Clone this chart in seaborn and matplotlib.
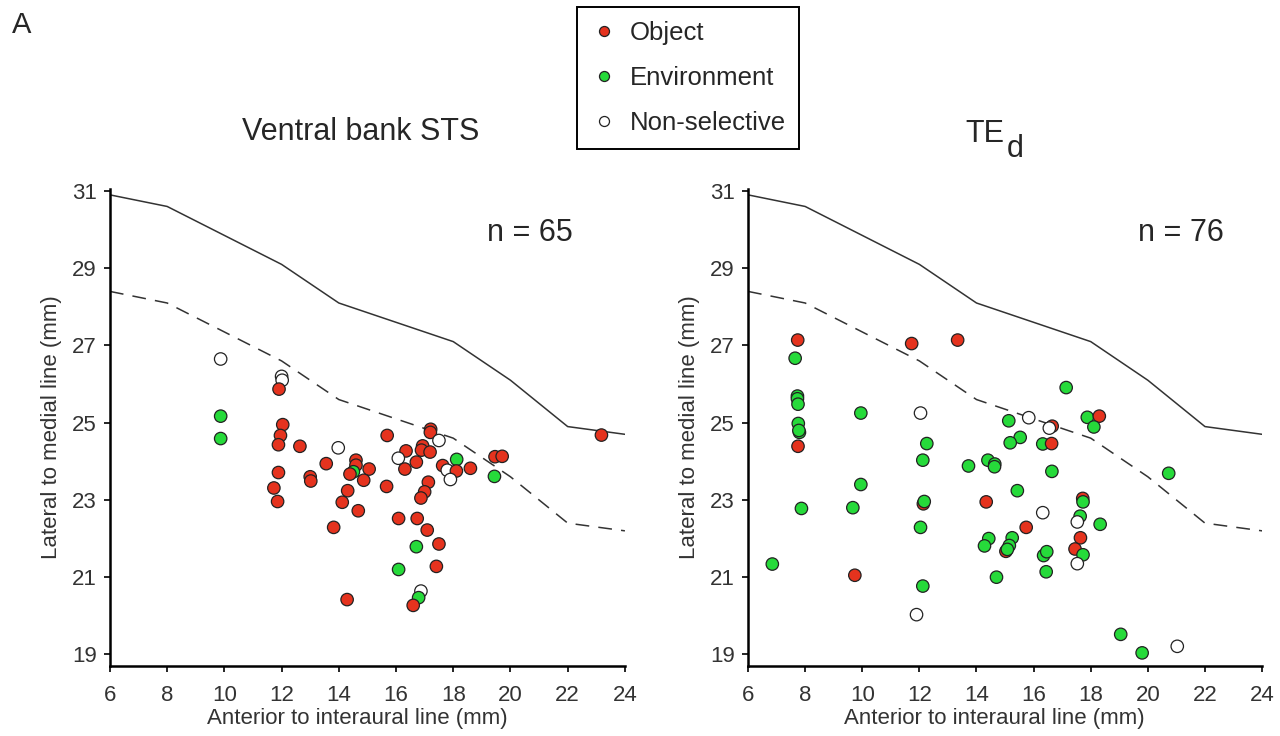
import matplotlib
matplotlib.use("Agg")
import matplotlib.pyplot as plt
from matplotlib.lines import Line2D
import seaborn as sns
import pandas as pd

sns.set_theme(style="ticks")
plt.rcParams['font.family'] = ['Liberation Sans', 'DejaVu Sans']

# Boundary lines (shared by both panels)
bound_x = [6, 8, 12, 14, 18, 20, 22, 24]
solid_y = [30.9, 30.6, 29.1, 28.1, 27.1, 26.1, 24.9, 24.7]
dashed_y = [28.4, 28.1, 26.6, 25.6, 24.6, 23.6, 22.4, 22.2]

# Ventral bank STS
sts_x = [9.87, 12.0, 12.02, 11.91, 9.87, 9.87, 12.04, 11.96, 11.89, 12.64,
         13.98, 13.56, 14.6, 14.6, 14.51, 14.39, 11.89, 13.0, 13.02, 11.73,
         14.31, 11.86, 14.12, 14.68, 13.82, 14.29, 15.06, 14.87, 15.69, 15.67,
         17.21, 17.2, 17.5, 16.35, 16.93, 16.89, 17.19, 16.08, 16.71, 16.31,
         17.63, 17.79, 18.12, 18.11, 17.9, 18.6, 19.46, 19.71, 19.44, 23.18,
         17.13, 17.0, 16.87, 16.09, 16.74, 17.09, 17.5, 16.71, 16.09, 17.41,
         16.87, 16.79, 16.6]
sts_y = [26.65, 26.2, 26.1, 25.87, 25.17, 24.59, 24.95, 24.67, 24.43, 24.39,
         24.35, 23.94, 24.03, 23.9, 23.73, 23.67, 23.71, 23.6, 23.49, 23.31,
         23.24, 22.96, 22.94, 22.72, 22.29, 20.42, 23.8, 23.51, 24.67, 23.35,
         24.83, 24.75, 24.54, 24.27, 24.4, 24.29, 24.24, 24.08, 23.98, 23.8,
         23.89, 23.77, 24.05, 23.75, 23.53, 23.82, 24.12, 24.13, 23.61, 24.68,
         23.46, 23.21, 23.05, 22.52, 22.52, 22.22, 21.86, 21.79, 21.2, 21.28,
         20.64, 20.47, 20.27]
sts_cat = ['Non-selective', 'Non-selective', 'Non-selective', 'Object', 'Environment',
           'Environment', 'Object', 'Object', 'Object', 'Object',
           'Non-selective', 'Object', 'Object', 'Object', 'Environment',
           'Object', 'Object', 'Object', 'Object', 'Object',
           'Object', 'Object', 'Object', 'Object', 'Object',
           'Object', 'Object', 'Object', 'Object', 'Object',
           'Object', 'Object', 'Non-selective', 'Object', 'Object',
           'Object', 'Object', 'Non-selective', 'Object', 'Object',
           'Object', 'Non-selective', 'Environment', 'Object', 'Non-selective',
           'Object', 'Object', 'Object', 'Environment', 'Object',
           'Object', 'Object', 'Object', 'Object', 'Object',
           'Object', 'Object', 'Environment', 'Environment', 'Object',
           'Non-selective', 'Environment', 'Object']

# TEd
ted_x = [7.74, 7.65, 7.73, 7.73, 7.75, 7.76, 7.8, 7.78, 7.75, 7.87,
         6.85, 11.73, 13.34, 9.95, 9.95, 9.67, 9.74, 12.04, 12.26, 12.12,
         12.14, 12.17, 12.04, 12.12, 11.9, 13.72, 14.4, 14.64, 14.63, 14.34,
         14.43, 14.28, 14.7, 17.14, 15.13, 15.83, 16.65, 16.55, 17.88, 18.3,
         18.11, 15.53, 15.18, 16.32, 16.63, 16.64, 20.73, 15.43, 16.32, 17.72,
         17.73, 17.63, 17.53, 18.33, 15.74, 17.64, 17.45, 17.73, 17.53, 15.25,
         15.15, 15.03, 15.08, 16.35, 16.46, 16.44, 19.05, 19.8, 21.03]
ted_y = [27.14, 26.67, 25.69, 25.62, 25.48, 24.98, 24.75, 24.8, 24.39, 22.78,
         21.34, 27.05, 27.14, 25.25, 23.4, 22.8, 21.05, 25.25, 24.46, 24.03,
         22.9, 22.96, 22.29, 20.77, 20.03, 23.88, 24.03, 23.93, 23.86, 22.95,
         22.0, 21.81, 21.0, 25.91, 25.05, 25.13, 24.91, 24.86, 25.14, 25.17,
         24.89, 24.62, 24.48, 24.45, 24.46, 23.74, 23.69, 23.24, 22.67, 23.04,
         22.95, 22.58, 22.43, 22.37, 22.29, 22.02, 21.73, 21.58, 21.35, 22.02,
         21.82, 21.67, 21.72, 21.56, 21.66, 21.14, 19.52, 19.04, 19.21]
ted_cat = ['Object', 'Environment', 'Environment', 'Environment', 'Environment',
           'Environment', 'Environment', 'Environment', 'Object', 'Environment',
           'Environment', 'Object', 'Object', 'Environment', 'Environment',
           'Environment', 'Object', 'Non-selective', 'Environment', 'Environment',
           'Object', 'Environment', 'Environment', 'Environment', 'Non-selective',
           'Environment', 'Environment', 'Environment', 'Environment', 'Object',
           'Environment', 'Environment', 'Environment', 'Environment', 'Environment',
           'Non-selective', 'Object', 'Non-selective', 'Environment', 'Object',
           'Environment', 'Environment', 'Environment', 'Environment', 'Object',
           'Environment', 'Environment', 'Environment', 'Non-selective', 'Object',
           'Environment', 'Environment', 'Non-selective', 'Environment', 'Object',
           'Object', 'Object', 'Environment', 'Non-selective', 'Environment',
           'Environment', 'Object', 'Environment', 'Environment', 'Environment',
           'Environment', 'Environment', 'Environment', 'Non-selective']

categories = ['Object', 'Environment', 'Non-selective']
colors = {'Object': '#E5331E', 'Environment': '#26DA3A', 'Non-selective': '#FFFFFF'}
x_ticks = [6, 8, 10, 12, 14, 16, 18, 20, 22, 24]
y_ticks = [19, 21, 23, 25, 27, 29, 31]

fig = plt.figure(figsize=(12.8, 7.36), dpi=100)
ax_l = fig.add_axes([0.0859, 0.0951, 0.4023, 0.648])
ax_r = fig.add_axes([0.5844, 0.0951, 0.4016, 0.648])

bdf = pd.DataFrame({'x': bound_x, 'solid': solid_y, 'dashed': dashed_y})

panels = [(ax_l, sts_x, sts_y, sts_cat, 'n = 65', 0.8155),
          (ax_r, ted_x, ted_y, ted_cat, 'n = 76', 0.842)]
for ax, xs, ys, cs, ntext, nx in panels:
    sns.lineplot(data=bdf, x='x', y='solid', ax=ax, color='#333333', lw=1.1)
    sns.lineplot(data=bdf, x='x', y='dashed', ax=ax, color='#333333', lw=1.1)
    ax.lines[-1].set_dashes([9, 6])
    df = pd.DataFrame({'x': xs, 'y': ys, 'cat': cs})
    sns.scatterplot(data=df, x='x', y='y', hue='cat', hue_order=categories,
                    palette=colors, s=80, edgecolor='#222222', linewidth=0.9,
                    ax=ax, legend=False, zorder=3)
    ax.set_xlim(6, 24)
    ax.set_ylim(18.7, 31.05)
    ax.set_xticks(x_ticks)
    ax.set_yticks(y_ticks)
    ax.tick_params(labelsize=16, colors='black', labelcolor='#333333', length=4, width=1.2)
    ax.tick_params(axis='x', pad=10)
    ax.tick_params(axis='y', pad=5.5)
    for side in ['top', 'right']:
        ax.spines[side].set_visible(False)
    for side in ['left', 'bottom']:
        ax.spines[side].set_linewidth(1.8)
        ax.spines[side].set_color('black')
    ax.set_xlabel('Anterior to interaural line (mm)', fontsize=16, color='#333333')
    ax.xaxis.set_label_coords(0.48, -0.11, transform=ax.transAxes)
    ax.xaxis.label.set_va('center')
    ax.set_ylabel('Lateral to medial line (mm)', fontsize=16, color='#333333', labelpad=7)
    ax.text(nx, 0.908, ntext, transform=ax.transAxes, fontsize=22, ha='center', va='center')

fig.text(0.282, 0.8207, 'Ventral bank STS', fontsize=22, ha='center', va='center')
fig.text(0.7539, 1 - 142 / 736, 'TE', fontsize=22, ha='left', va='baseline')
fig.text(0.7867, 1 - 157 / 736, 'd', fontsize=22, ha='left', va='baseline')
fig.text(0.009, 0.966, 'A', fontsize=21, ha='left', va='center')

handles = [Line2D([0], [0], marker='o', linestyle='', markersize=7.2,
                  markerfacecolor=colors[c], markeredgecolor='#222222', markeredgewidth=0.9)
           for c in categories]
leg = fig.legend(handles, categories, loc='upper left', bbox_to_anchor=(577 / 1280, 1 - 7 / 736),
                 fontsize=18.5, frameon=True, fancybox=False, framealpha=1,
                 edgecolor='black', labelspacing=0.82, handletextpad=0.5,
                 borderpad=0.54, handlelength=1.0, borderaxespad=0)
leg.get_frame().set_linewidth(1.4)

fig.savefig('out.png', dpi=100)
